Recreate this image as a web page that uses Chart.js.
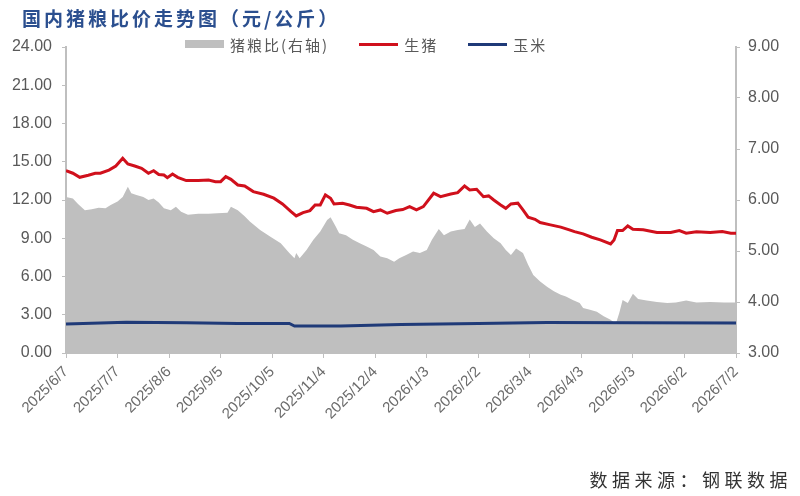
<!DOCTYPE html>
<html>
<head>
<meta charset="utf-8">
<script src="https://cdn.jsdelivr.net/npm/chart.js@4/dist/chart.umd.min.js"></script>
<style>
    body { margin: 0; background: #fff; }
    #wrap { position: relative; width: 800px; height: 496px; }
    #title {
        position: absolute; left: 22px; top: 4px;
        font: bold 19px "Noto Sans CJK SC", sans-serif; letter-spacing: 3px;
        color: #2b4f8f;
    }
    #legend {
        position: absolute; left: 185px; top: 35px; height: 18px;
        display: flex; align-items: center;
        font: 15px "Noto Sans CJK SC", sans-serif; letter-spacing: 2px; color: #595959;
    }
    .legend-item { display: flex; align-items: center; margin-right: 30px; }
    .legend-swatch { width: 39px; margin-right: 6px; }
    #source {
        position: absolute; right: 8px; top: 466px;
        font: 18px "Noto Sans CJK SC", sans-serif; letter-spacing: 4.5px; color: #333;
    }
</style>
</head>
<body>
<div id="wrap">
    <canvas id="chart" width="800" height="496"></canvas>
    <div id="title">国内猪粮比价走势图（元/公斤）</div>
    <div id="legend"></div>
    <div id="source">数据来源：钢联数据</div>
</div>
<script>
// x = days since 2025/6/7
const tickLabels = ['2025/6/7', '2025/7/7', '2025/8/6', '2025/9/5', '2025/10/5', '2025/11/4', '2025/12/4',
    '2026/1/3', '2026/2/2', '2026/3/4', '2026/4/3', '2026/5/3', '2026/6/2', '2026/7/2'];

// 生猪 (元/公斤, left axis)
const hogDays = [0, 4, 8, 13, 17, 20, 25, 29, 33, 36, 40, 44, 48, 51, 54, 57, 59, 62, 65, 70, 77, 83, 87, 90,
    93, 96, 100, 104, 109, 115, 121, 126, 131, 134, 138, 142, 145, 148, 151, 154, 156, 161, 165, 169, 175,
    179, 183, 187, 192, 196, 200, 204, 208, 214, 218, 224, 228, 232, 235, 239, 243, 246, 249, 253, 256, 259,
    263, 266, 269, 273, 276, 282, 288, 293, 296, 301, 306, 311, 317, 319, 321, 324, 327, 330, 336, 344, 352,
    357, 361, 367, 375, 382, 387, 390];
const hogPrice = [14.30, 14.10, 13.78, 13.94, 14.10, 14.10, 14.35, 14.67, 15.27, 14.82, 14.67, 14.49, 14.10,
    14.30, 14.00, 13.96, 13.75, 14.04, 13.78, 13.52, 13.52, 13.57, 13.44, 13.44, 13.83, 13.62, 13.18, 13.10,
    12.66, 12.45, 12.14, 11.69, 11.09, 10.75, 11.01, 11.17, 11.61, 11.61, 12.40, 12.14, 11.69, 11.75, 11.61,
    11.43, 11.35, 11.09, 11.22, 10.96, 11.17, 11.25, 11.48, 11.22, 11.48, 12.53, 12.26, 12.47, 12.58, 13.10,
    12.79, 12.84, 12.26, 12.32, 12.00, 11.61, 11.35, 11.69, 11.75, 11.22, 10.65, 10.49, 10.23, 10.05, 9.87,
    9.66, 9.52, 9.34, 9.08, 8.87, 8.56, 8.87, 9.60, 9.60, 9.97, 9.71, 9.66, 9.45, 9.45, 9.60, 9.40, 9.50,
    9.45, 9.52, 9.40, 9.40];

// 猪粮比 (right axis)
const ratioDays = [0, 4, 7, 11, 15, 19, 23, 26, 30, 33, 36, 38, 41, 45, 48, 51, 54, 57, 61, 64, 67, 71, 77,
    83, 88, 94, 96, 100, 104, 107, 113, 119, 125, 130, 133, 134, 136, 140, 144, 148, 152, 154, 157, 159, 163,
    167, 171, 175, 179, 183, 187, 191, 194, 198, 202, 206, 210, 213, 217, 220, 224, 228, 232, 235, 238, 241,
    245, 249, 253, 256, 259, 262, 266, 269, 272, 276, 280, 284, 288, 291, 295, 299, 301, 305, 309, 313, 317,
    320, 322, 324, 327, 330, 333, 338, 344, 350, 355, 361, 367, 375, 383, 390];
const ratioValues = [6.06, 6.03, 5.92, 5.80, 5.82, 5.85, 5.84, 5.90, 5.97, 6.06, 6.26, 6.13, 6.10, 6.06,
    6.00, 6.03, 5.95, 5.84, 5.80, 5.87, 5.77, 5.71, 5.73, 5.73, 5.74, 5.75, 5.87, 5.80, 5.68, 5.58, 5.41,
    5.28, 5.15, 4.96, 4.86, 4.96, 4.86, 5.02, 5.22, 5.38, 5.61, 5.66, 5.48, 5.35, 5.31, 5.22, 5.15, 5.09,
    5.02, 4.89, 4.86, 4.79, 4.86, 4.92, 4.99, 4.96, 5.02, 5.22, 5.43, 5.31, 5.38, 5.41, 5.43, 5.62, 5.47,
    5.54, 5.38, 5.25, 5.15, 5.02, 4.92, 5.05, 4.96, 4.73, 4.53, 4.40, 4.30, 4.21, 4.14, 4.11, 4.04, 3.98,
    3.88, 3.85, 3.81, 3.72, 3.65, 3.57, 3.78, 4.04, 3.98, 4.16, 4.06, 4.03, 4.00, 3.98, 3.99, 4.03, 3.99,
    4.00, 3.99, 3.99];

// 玉米 (元/公斤, left axis)
const cornDays = [0, 35, 70, 100, 130, 133, 160, 195, 240, 280, 330, 390];
const cornPrice = [2.28, 2.42, 2.38, 2.32, 2.32, 2.12, 2.12, 2.24, 2.32, 2.40, 2.38, 2.35];

const toPoints = (days, values) => days.map((d, i) => ({ x: d, y: values[i] }));

const axisColor = '#bfbfbf';
const tickColor = '#595959';

// HTML legend built from the chart's own legend items
const htmlLegend = {
    id: 'htmlLegend',
    afterUpdate(chart) {
        const box = document.getElementById('legend');
        box.innerHTML = '';
        const items = chart.options.plugins.legend.labels.generateLabels(chart);
        items.forEach(item => {
            const el = document.createElement('div');
            el.className = 'legend-item';
            const sw = document.createElement('span');
            sw.className = 'legend-swatch';
            if (item.lineWidth > 0) {
                sw.style.height = item.lineWidth + 'px';
                sw.style.background = item.strokeStyle;
            } else {
                sw.style.height = '8px';
                sw.style.background = item.fillStyle;
            }
            const txt = document.createElement('span');
            txt.textContent = item.text;
            el.appendChild(sw);
            el.appendChild(txt);
            box.appendChild(el);
        });
    }
};

const ctx = document.getElementById('chart').getContext('2d');
new Chart(ctx, {
    type: 'line',
    data: {
        datasets: [
            {
                label: '猪粮比(右轴)',
                data: toPoints(ratioDays, ratioValues),
                yAxisID: 'y1',
                backgroundColor: '#bfbfbf',
                borderColor: '#bfbfbf',
                borderWidth: 0,
                pointRadius: 0,
                fill: 'start'
            },
            {
                label: '生猪',
                data: toPoints(hogDays, hogPrice),
                yAxisID: 'y',
                borderColor: '#d0101c',
                borderWidth: 3,
                pointRadius: 0,
                fill: false
            },
            {
                label: '玉米',
                data: toPoints(cornDays, cornPrice),
                yAxisID: 'y',
                borderColor: '#1f3a78',
                borderWidth: 3,
                pointRadius: 0,
                fill: false
            }
        ]
    },
    options: {
        responsive: false,
        animation: false,
        layout: { padding: { top: 47, left: 0, right: 0, bottom: 0 } },
        plugins: {
            legend: { display: false },
            tooltip: { enabled: false },
            filler: { drawTime: 'beforeDatasetsDraw' }
        },
        scales: {
            x: {
                type: 'linear',
                position: 'bottom',
                min: 0,
                max: 390,
                afterFit: (scale) => { scale.height = 143; },
                grid: { drawOnChartArea: false, color: axisColor, tickLength: 5 },
                border: { color: axisColor, width: 2 },
                ticks: {
                    stepSize: 30,
                    maxTicksLimit: 20,
                    autoSkip: false,
                    minRotation: 45,
                    maxRotation: 45,
                    padding: 5,
                    color: '#6b6b6b',
                    font: { family: 'Liberation Sans', size: 15 },
                    callback: (value) => tickLabels[value / 30]
                }
            },
            y: {
                position: 'left',
                min: 0,
                max: 24,
                afterFit: (scale) => { scale.width = 66; },
                grid: { drawOnChartArea: false, color: axisColor, tickLength: 4 },
                border: { color: axisColor, width: 2 },
                ticks: {
                    stepSize: 3,
                    padding: 10,
                    color: tickColor,
                    font: { family: 'Liberation Sans', size: 16 },
                    callback: (value) => value.toFixed(2)
                }
            },
            y1: {
                position: 'right',
                min: 3,
                max: 9,
                afterFit: (scale) => { scale.width = 64; },
                grid: { drawOnChartArea: false, color: axisColor, tickLength: 4 },
                border: { color: axisColor, width: 2 },
                ticks: {
                    stepSize: 1,
                    padding: 8,
                    color: tickColor,
                    font: { family: 'Liberation Sans', size: 16 },
                    callback: (value) => value.toFixed(2)
                }
            }
        }
    },
    plugins: [htmlLegend]
});
</script>
</body>
</html>
